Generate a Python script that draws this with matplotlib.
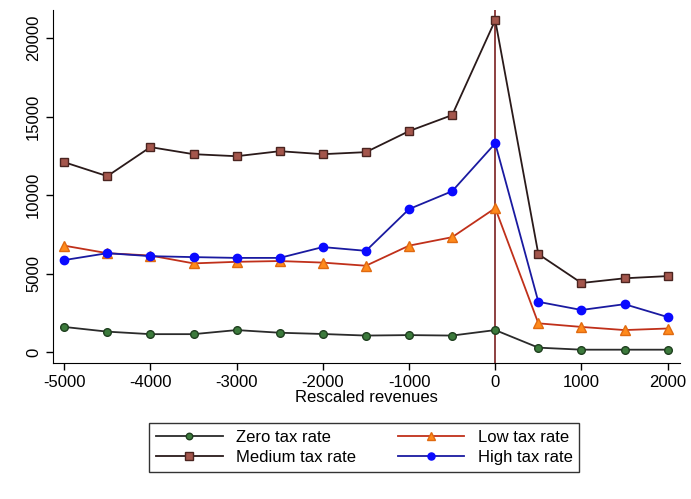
import numpy as np
import matplotlib.pyplot as plt

plt.rcParams['font.family'] = ['Liberation Sans', 'DejaVu Sans']

revenues = [-5000, -4500, -4000, -3500, -3000, -2500, -2000, -1500,
            -1000, -500, 0, 500, 1000, 1500, 2000]
zero_rate = [1600, 1300, 1140, 1140, 1400, 1230, 1150, 1050,
             1080, 1050, 1400, 280, 150, 150, 150]
medium_rate = [12100, 11210, 13060, 12610, 12480, 12800, 12610, 12740,
               14080, 15100, 21150, 6240, 4400, 4700, 4840]
low_rate = [6780, 6300, 6150, 5650, 5750, 5800, 5700, 5500,
            6780, 7320, 9170, 1830, 1600, 1400, 1500]
high_rate = [5860, 6300, 6110, 6050, 6000, 6000, 6690, 6450,
             9110, 10250, 13300, 3200, 2680, 3050, 2230]

x_ticks = [-5000, -4000, -3000, -2000, -1000, 0, 1000, 2000]
y_ticks = [0, 5000, 10000, 15000, 20000]

fig = plt.figure(figsize=(6.91, 4.99), dpi=100)
ax = fig.add_axes([0.0767, 0.2725, 0.907, 0.7075])

ax.axvline(0, color='#7a2020', lw=1.2, zorder=1)

h_zero, = ax.plot(revenues, zero_rate, color='#2b2b2b', lw=1.3, marker='o', ms=5.5,
                  mfc='#3c7a3c', mec='#1f3f1f', label='Zero tax rate')
h_med, = ax.plot(revenues, medium_rate, color='#2a1a1a', lw=1.3, marker='s', ms=6,
                 mfc='#a4564c', mec='#4a2420', label='Medium tax rate')
h_low, = ax.plot(revenues, low_rate, color='#c0301a', lw=1.3, marker='^', ms=7,
                 mfc='#ff8a1c', mec='#e06a10', label='Low tax rate')
h_high, = ax.plot(revenues, high_rate, color='#1a1aa0', lw=1.3, marker='o', ms=6,
                  mfc='#0a0aff', mec='#0a0aff', label='High tax rate')

ax.set_xlim(-5130, 2140)
ax.set_ylim(-700, 21800)
ax.set_xticks(x_ticks)
ax.set_yticks(y_ticks)
ax.set_xticklabels([str(v) for v in x_ticks], fontsize=12)
ax.set_yticklabels([str(v) for v in y_ticks], fontsize=12, rotation=90, va='center')
ax.tick_params(direction='out', length=5, width=1)
ax.spines['top'].set_visible(False)
ax.spines['right'].set_visible(False)
ax.set_xlabel('Rescaled revenues', fontsize=12, labelpad=0)

fig.legend(handles=[h_zero, h_med, h_low, h_high], ncol=2, loc='center',
           bbox_to_anchor=(0.527, 0.103), fontsize=12, frameon=True, fancybox=False,
           edgecolor='black', handlelength=4, columnspacing=2.5, borderpad=0.4,
           labelspacing=0.3, markerscale=0.85)

fig.savefig('out.png', dpi=100)
